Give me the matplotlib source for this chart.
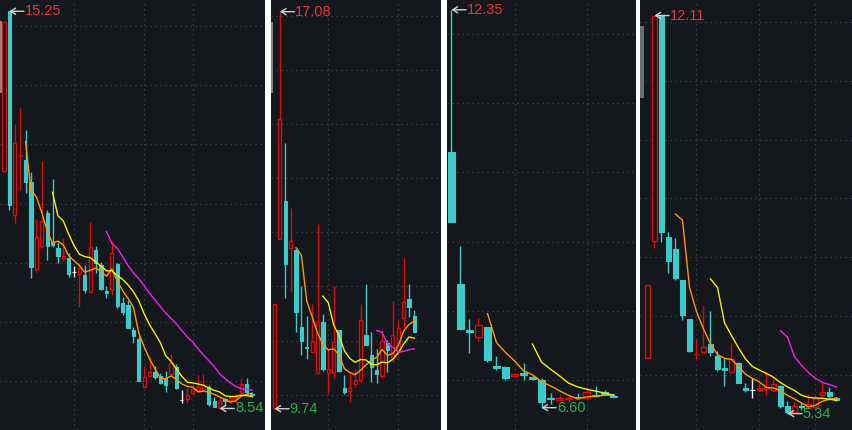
import numpy as np
import pandas as pd
import matplotlib
matplotlib.use('Agg')
import matplotlib.pyplot as plt
from matplotlib.patches import Rectangle

BG = '#14171c'
RED = '#dd0a0a'
CYAN = '#3ccaca'
WHITE = '#f0f0f0'
GRID = '#40444c'
MA_COLORS = {5: '#ff9800', 10: '#f5f000', 20: '#ee22ee'}
LABEL_RED = '#e8343a'
LABEL_GREEN = '#23b14d'
FONT = ['Liberation Sans Narrow', 'Liberation Sans', 'DejaVu Sans']

# ---- panel 1 (47 days) ----
p1_open = [12.55, 15.25, 11.81, 12.80, 12.74, 12.36, 10.90, 11.28, 11.84, 11.35,
           11.25, 11.06, 11.08, 10.84, 10.81, 10.79, 10.51, 11.22, 10.96, 10.52,
           10.54, 10.98, 10.32, 10.29, 9.86, 9.71, 8.90, 9.09, 9.16, 9.09,
           9.05, 9.12, 9.24, 8.68, 8.70, 8.80, 8.85, 8.85, 8.90, 8.67,
           8.54, 8.70, 8.68, 8.70, 8.80, 8.95, 8.78]
p1_high = [15.07, 15.25, 13.34, 13.61, 13.24, 12.53, 11.74, 12.72, 11.89, 12.42,
           11.35, 11.42, 11.17, 10.95, 11.00, 10.96, 11.69, 11.28, 11.01, 10.61,
           11.37, 11.00, 10.42, 10.37, 9.92, 9.76, 9.26, 9.41, 9.26, 9.14,
           9.17, 9.46, 9.29, 8.85, 8.89, 8.94, 9.10, 9.12, 8.94, 8.73,
           8.73, 8.72, 8.77, 8.78, 9.05, 9.05, 8.82]
p1_low = [12.55, 11.89, 11.68, 12.23, 12.18, 10.74, 10.85, 11.25, 11.05, 11.27,
          11.00, 11.03, 10.76, 10.76, 10.25, 10.49, 10.51, 10.83, 10.54, 10.41,
          10.46, 10.24, 10.12, 9.90, 9.65, 9.00, 8.90, 9.09, 9.04, 8.95,
          8.82, 9.10, 8.87, 8.63, 8.63, 8.77, 8.83, 8.83, 8.58, 8.56,
          8.54, 8.60, 8.63, 8.63, 8.77, 8.77, 8.73]
p1_close = [15.07, 11.98, 13.02, 12.82, 12.36, 10.93, 11.44, 11.71, 11.28, 11.30,
            11.11, 11.11, 10.81, 10.84, 10.91, 10.54, 11.27, 11.00, 10.56, 10.49,
            11.17, 10.27, 10.17, 9.90, 9.76, 9.00, 9.07, 9.16, 9.07, 8.97,
            8.94, 9.30, 8.88, 8.68, 8.77, 8.87, 8.90, 8.94, 8.61, 8.56,
            8.67, 8.67, 8.72, 8.73, 8.95, 8.82, 8.76]

# ---- panel 2 (27 days) ----
p2_open = [9.75, 12.88, 13.58, 12.71, 12.67, 11.25, 10.88, 10.79, 10.40, 11.34,
           10.40, 10.40, 11.20, 10.12, 10.07, 10.20, 10.27, 11.10, 10.73, 10.46,
           10.35, 10.96, 10.68, 10.79, 11.42, 11.77, 11.45]
p2_high = [11.68, 17.08, 14.65, 13.45, 12.71, 12.01, 11.45, 11.68, 13.16, 11.49,
           10.86, 12.01, 11.20, 10.36, 10.40, 10.47, 11.68, 12.05, 11.16, 10.84,
           11.20, 11.01, 11.73, 11.38, 12.53, 12.05, 11.57]
p2_low = [9.74, 12.88, 11.79, 11.90, 11.16, 10.73, 10.66, 10.79, 10.40, 10.44,
          10.03, 10.31, 10.42, 10.01, 9.87, 10.14, 10.23, 10.92, 10.23, 10.22,
          10.31, 10.42, 10.60, 10.79, 11.20, 11.44, 11.16]
p2_close = [11.68, 15.10, 12.42, 12.84, 11.53, 10.99, 10.86, 10.99, 11.34, 10.47,
            10.47, 10.97, 10.44, 10.05, 10.12, 10.27, 11.38, 10.92, 10.51, 10.38,
            10.99, 10.83, 11.10, 11.23, 11.71, 11.62, 11.16]

# ---- panel 3 (19 days) ----
p3_open = [10.29, 8.39, 7.72, 7.62, 7.77, 7.20, 7.19, 7.06, 7.10, 7.04,
           7.00, 6.74, 6.71, 6.73, 6.76, 6.74, 6.78, 6.83, 6.77]
p3_high = [12.35, 8.94, 7.88, 7.90, 7.77, 7.35, 7.20, 7.10, 7.25, 7.06,
           7.03, 6.81, 6.78, 6.78, 6.81, 6.90, 6.92, 6.86, 6.80]
p3_low = [9.28, 7.74, 7.39, 7.56, 7.26, 7.14, 7.00, 7.05, 7.00, 7.00,
          6.60, 6.65, 6.70, 6.68, 6.73, 6.71, 6.75, 6.78, 6.75]
p3_close = [9.28, 7.74, 7.70, 7.79, 7.29, 7.18, 7.03, 7.09, 7.07, 7.01,
            6.68, 6.72, 6.74, 6.74, 6.75, 6.83, 6.77, 6.80, 6.76]

# ---- panel 4 (28 days) ----
p4_open = [6.29, 8.28, 12.11, 8.34, 8.14, 7.61, 6.95, 6.35, 6.39, 6.52,
           6.32, 6.12, 6.05, 6.20, 5.78, 5.74, 5.74, 5.76, 5.74, 5.81,
           5.47, 5.37, 5.47, 5.44, 5.45, 5.66, 5.71, 5.61]
p4_high = [7.53, 12.11, 12.11, 8.43, 8.33, 7.61, 6.95, 6.61, 7.17, 7.09,
           6.40, 6.29, 6.54, 6.22, 5.86, 5.95, 5.86, 6.05, 5.95, 5.83,
           5.55, 5.54, 5.52, 5.67, 5.66, 5.89, 5.79, 5.62]
p4_low = [6.29, 8.16, 8.26, 7.73, 7.61, 6.93, 6.39, 6.27, 6.39, 6.32,
          6.06, 5.81, 6.03, 5.86, 5.71, 5.61, 5.72, 5.66, 5.71, 5.44,
          5.34, 5.35, 5.40, 5.42, 5.44, 5.62, 5.57, 5.55]
p4_close = [7.53, 12.11, 8.43, 7.94, 7.65, 7.02, 6.40, 6.36, 6.47, 6.39,
            6.10, 6.08, 6.27, 5.86, 5.74, 5.74, 5.78, 5.79, 5.84, 5.47,
            5.37, 5.47, 5.46, 5.50, 5.61, 5.71, 5.64, 5.57]

panels = [
    # ohlc, axes rect (px), xlim, ylim, body width, month lines, max idx, min idx
    dict(o=p1_open, h=p1_high, l=p1_low, c=p1_close, px=(0, 265),
         xlim=(-0.742, 48.42), ylim=(8.176, 15.44), w=0.6, vx=[13, 26, 35],
         hi=1, lo=40),
    dict(o=p2_open, h=p2_high, l=p2_low, c=p2_close, px=(271, 441),
         xlim=(-0.65, 30.95), ylim=(9.347, 17.296), w=0.6, vx=[10, 23],
         hi=1, lo=0),
    dict(o=p3_open, h=p3_high, l=p3_low, c=p3_close, px=(447, 636),
         xlim=(-0.5, 20.5), ylim=(6.277, 12.491), w=0.75, vx=[7, 15],
         hi=0, lo=10),
    dict(o=p4_open, h=p4_high, l=p4_low, c=p4_close, px=(640, 853),
         xlim=(-1.07, 29.36), ylim=(5.061, 12.374), w=0.72, vx=[7, 16, 24],
         hi=1, lo=20),
]
scroll = [(0, 2, 21, 93, '#85858a'), (0, 2, 22, 93, '#85858a'), None, (0, 4, 26, 98, '#6c6c76')]

W, H = 853, 430
fig = plt.figure(figsize=(W / 100, H / 100), dpi=100)
fig.patch.set_facecolor('white')

for k, p in enumerate(panels):
    x0, x1 = p['px']
    ax = fig.add_axes([x0 / W, 0, (x1 - x0) / W, 1])
    ax.set_facecolor(BG)
    for s in ax.spines.values():
        s.set_visible(False)
    ax.set_xticks([]), ax.set_yticks([])
    ax.set_xlim(*p['xlim'])
    ax.set_ylim(*p['ylim'])

    # grid
    for yv in range(int(np.ceil(p['ylim'][0])), int(p['ylim'][1]) + 1):
        ax.axhline(yv, color=GRID, lw=0.9, ls=(0, (1, 3)), zorder=0)
    for xv in p['vx']:
        ax.axvline(xv, color=GRID, lw=0.9, ls=(0, (1, 3)), zorder=0)

    o, h, l, c = (np.array(p[key]) for key in 'ohlc')
    x = np.arange(len(o))
    for i in x:
        if c[i] > o[i]:
            col = RED
            ax.vlines(i, l[i], o[i], color=col, lw=1, zorder=2)
            ax.vlines(i, c[i], h[i], color=col, lw=1, zorder=2)
            ax.bar(i, c[i] - o[i], bottom=o[i], width=p['w'], facecolor=BG,
                   edgecolor=col, linewidth=1, zorder=3)
        else:
            col = CYAN if c[i] < o[i] else WHITE
            ax.vlines(i, l[i], h[i], color=col, lw=1, zorder=2)
            ax.bar(i, min(c[i] - o[i], -0.001), bottom=o[i], width=p['w'],
                   facecolor=col, edgecolor=col, linewidth=0.8, zorder=3)

    # moving averages of the close
    cs = pd.Series(c)
    for n, mc in MA_COLORS.items():
        ma = cs.rolling(n).mean()
        ax.plot(x, ma, color=mc, lw=1, zorder=4)

    # max / min labels
    for idx, val, tc in [(p['hi'], h[p['hi']], LABEL_RED), (p['lo'], l[p['lo']], LABEL_GREEN)]:
        ax.annotate('', xy=(idx, val), xytext=(10.5, 0), textcoords='offset points',
                    arrowprops=dict(arrowstyle='->,head_length=0.35,head_width=0.22',
                                    color='#cfcfcf', lw=1, shrinkA=0, shrinkB=0), zorder=6)
        ax.annotate(f'{val:.2f}', xy=(idx, val), xytext=(11, 0), textcoords='offset points',
                    ha='left', va='center', color=tc, fontsize=10.5, family=FONT, zorder=6)

    if scroll[k] is not None:
        sx0, sx1, sy0, sy1, scol = scroll[k]
        pw = x1 - x0
        ax.add_patch(Rectangle((sx0 / pw, 1 - sy1 / H), (sx1 - sx0) / pw, (sy1 - sy0) / H,
                               transform=ax.transAxes, facecolor=scol, edgecolor='none',
                               zorder=5))

fig.savefig('out.png', dpi=100, facecolor=fig.get_facecolor())
